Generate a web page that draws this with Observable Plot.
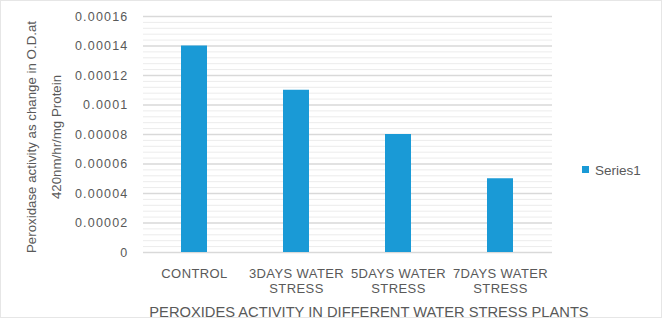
<!DOCTYPE html>
<html><head><meta charset="utf-8">
<script src="https://cdn.jsdelivr.net/npm/d3@7"></script>
<script src="https://cdn.jsdelivr.net/npm/@observablehq/plot@0.6"></script>
<style>
body{margin:0;background:#fff;}
#c{width:662px;height:318px;overflow:hidden;}
svg text{font-family:"Liberation Sans",Arial,sans-serif;}
</style></head>
<body><div id="c"></div>
<script>
const categories = ["CONTROL", "3DAYS WATER\nSTRESS", "5DAYS WATER\nSTRESS", "7DAYS WATER\nSTRESS"];
const values = [0.00014, 0.00011, 0.00008, 0.00005];
const yTicks = [0, 0.00002, 0.00004, 0.00006, 0.00008, 0.0001, 0.00012, 0.00014, 0.00016];
const yTickLabels = ["0", "0.00002", "0.00004", "0.00006", "0.00008", "0.0001", "0.00012", "0.00014", "0.00016"];
const seriesName = "Series1";
const xTitle = "PEROXIDES ACTIVITY IN DIFFERENT WATER STRESS PLANTS";
const yTitleLines = ["Peroxidase activity as change in O.D.at", "420nm/hr/mg Protein"];

const data = categories.map((c, i) => ({cat: c, v: values[i]}));
const minor = [];
for (let i = 0; i < yTicks.length - 1; i++) {
  const step = (yTicks[i+1] - yTicks[i]) / 5;
  for (let k = 1; k < 5; k++) minor.push(yTicks[i] + k * step);
}
const color = "#1a9ad6";
const gray = "#595959";
const labelOf = d => yTickLabels[yTicks.findIndex(t => Math.abs(t - d) < 1e-12)];

const chart = Plot.plot({
  width: 662, height: 318,
  marginLeft: 143, marginRight: 110, marginTop: 16, marginBottom: 66,
  style: {color: gray, background: "#fff"},
  x: {domain: categories, paddingInner: 0.745, paddingOuter: 0.3725, label: null},
  y: {domain: [0, 0.00016], label: null},
  marks: [
    Plot.ruleY(minor, {stroke: "#ececec", strokeWidth: 1}),
    Plot.ruleY(yTicks, {stroke: "#d9d9d9", strokeWidth: 1.3}),
    Plot.barY(data, {x: "cat", y: "v", fill: color}),
    Plot.axisY({ticks: yTicks, tickFormat: labelOf, tickSize: 0, tickPadding: 15, label: null, fill: gray}),
    Plot.axisX({tickSize: 0, tickPadding: 14, label: null, fill: gray, lineHeight: 1.2})
  ]
});
document.getElementById("c").appendChild(chart);

const svg = d3.select(chart);
svg.selectAll("[aria-label='y-axis tick label']").attr("font-size", 12.5).attr("letter-spacing", "1.2px");
svg.selectAll("[aria-label='x-axis tick label']").attr("font-size", 13).attr("letter-spacing", "0.4px");
// border
svg.insert("rect", ":first-child").attr("x", 0.5).attr("y", 0.5).attr("width", 661).attr("height", 317)
  .attr("fill", "#fff").attr("stroke", "#e6e6e6");
// x title
svg.append("text").attr("x", 369).attr("y", 316.5).attr("text-anchor", "middle")
  .attr("font-size", 14.7).attr("fill", gray).text(xTitle);
// y title
const yt = svg.append("text").attr("transform", "translate(0,137) rotate(-90)")
  .attr("text-anchor", "middle").attr("font-size", 13.3).attr("fill", gray);
yt.append("tspan").attr("x", 0).attr("y", 36).text(yTitleLines[0]);
yt.append("tspan").attr("x", 0).attr("y", 61).text(yTitleLines[1]);
// legend
svg.append("rect").attr("x", 582).attr("y", 166).attr("width", 7).attr("height", 7).attr("fill", color);
svg.append("text").attr("x", 595).attr("y", 174.5).attr("text-anchor", "start")
  .attr("font-size", 13.5).attr("fill", gray).text(seriesName);
</script></body></html>
